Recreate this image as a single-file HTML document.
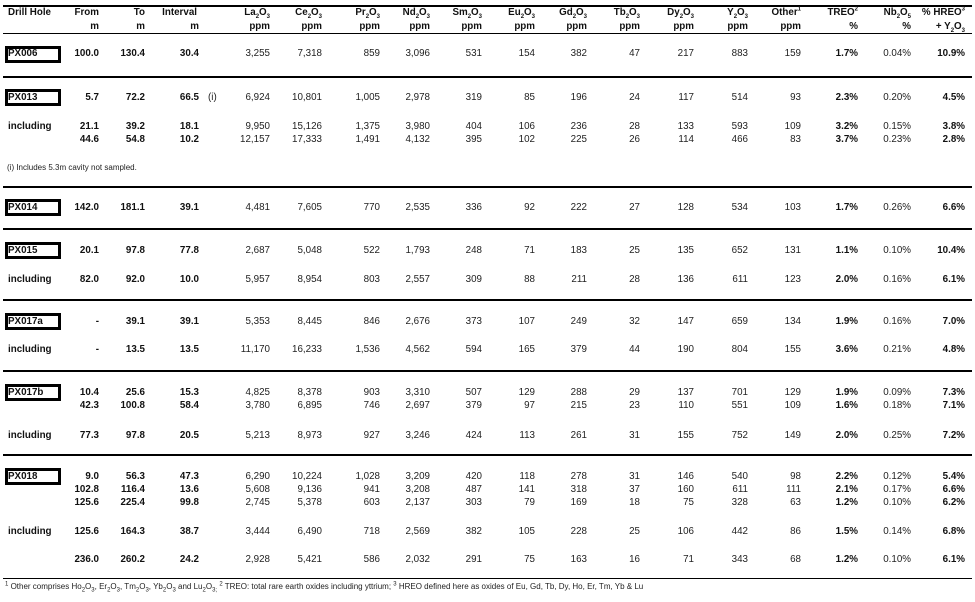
<!DOCTYPE html>
<html><head><meta charset="utf-8"><style>
body{margin:0;background:#fff;width:975px;height:602px;position:relative;overflow:hidden;font-family:"Liberation Sans",Arial,sans-serif;font-size:9.8px;color:#222}
.r{position:absolute;left:0;width:975px;height:12px;line-height:12px}
.r span{position:absolute;white-space:nowrap}
.b{font-weight:bold;color:#111}
.d{left:8px}
.f{right:876px}.t{right:830px}.iv{right:776px}.la{right:705px}.ce{right:653px}.pr{right:595px}.nd{right:545px}.sm{right:493px}.eu{right:440px}.gd{right:388px}.tb{right:335px}.dy{right:281px}.y{right:227px}.ot{right:174px}.tr{right:117px}.nb{right:64px}.h{right:10px}
.f,.t,.iv,.tr,.h,.d{font-weight:bold;color:#111}
.box{position:absolute;left:5px;width:50px;height:11px;border:3px solid #000}
.ln{position:absolute;left:3px;width:969px;background:#000}
sub,sup{font-size:6px;line-height:0}
</style></head><body>
<div class="ln" style="top:5px;height:2px"></div>
<div class="ln" style="top:33px;height:1px"></div>
<div class="ln" style="top:76px;height:2px"></div>
<div class="ln" style="top:186px;height:2px"></div>
<div class="ln" style="top:228px;height:2px"></div>
<div class="ln" style="top:299px;height:2px"></div>
<div class="ln" style="top:370px;height:2px"></div>
<div class="ln" style="top:454px;height:2px"></div>
<div class="ln" style="top:578px;height:1px"></div>

<div class="r" style="top:7px"><span class="d">Drill Hole</span><span class="f">From</span><span class="t">To</span><span class="iv" style="right:778px">Interval</span><span class="la b">La<sub>2</sub>O<sub>3</sub></span><span class="ce b">Ce<sub>2</sub>O<sub>3</sub></span><span class="pr b">Pr<sub>2</sub>O<sub>3</sub></span><span class="nd b">Nd<sub>2</sub>O<sub>3</sub></span><span class="sm b">Sm<sub>2</sub>O<sub>3</sub></span><span class="eu b">Eu<sub>2</sub>O<sub>3</sub></span><span class="gd b">Gd<sub>2</sub>O<sub>3</sub></span><span class="tb b">Tb<sub>2</sub>O<sub>3</sub></span><span class="dy b">Dy<sub>2</sub>O<sub>3</sub></span><span class="y b">Y<sub>2</sub>O<sub>3</sub></span><span class="ot b">Other<sup>1</sup></span><span class="tr">TREO<sup>2</sup></span><span class="nb b">Nb<sub>2</sub>O<sub>5</sub></span><span class="h">% HREO<sup>3</sup></span></div>
<div class="r" style="top:21px"><span class="f">m</span><span class="t">m</span><span class="iv">m</span><span class="la b">ppm</span><span class="ce b">ppm</span><span class="pr b">ppm</span><span class="nd b">ppm</span><span class="sm b">ppm</span><span class="eu b">ppm</span><span class="gd b">ppm</span><span class="tb b">ppm</span><span class="dy b">ppm</span><span class="y b">ppm</span><span class="ot b">ppm</span><span class="tr">%</span><span class="nb b">%</span><span class="h">+ Y<sub>2</sub>O<sub>3</sub></span></div>

<div class="box" style="top:46px"></div>
<div class="r" style="top:48px"><span class="d">PX006</span><span class="f">100.0</span><span class="t">130.4</span><span class="iv">30.4</span><span class="la">3,255</span><span class="ce">7,318</span><span class="pr">859</span><span class="nd">3,096</span><span class="sm">531</span><span class="eu">154</span><span class="gd">382</span><span class="tb">47</span><span class="dy">217</span><span class="y">883</span><span class="ot">159</span><span class="tr">1.7%</span><span class="nb">0.04%</span><span class="h">10.9%</span></div>

<div class="box" style="top:89px"></div>
<div class="r" style="top:92px"><span class="d">PX013</span><span class="f">5.7</span><span class="t">72.2</span><span class="iv">66.5</span><span style="left:208px">(i)</span><span class="la">6,924</span><span class="ce">10,801</span><span class="pr">1,005</span><span class="nd">2,978</span><span class="sm">319</span><span class="eu">85</span><span class="gd">196</span><span class="tb">24</span><span class="dy">117</span><span class="y">514</span><span class="ot">93</span><span class="tr">2.3%</span><span class="nb">0.20%</span><span class="h">4.5%</span></div>
<div class="r" style="top:121px"><span class="d">including</span><span class="f">21.1</span><span class="t">39.2</span><span class="iv">18.1</span><span class="la">9,950</span><span class="ce">15,126</span><span class="pr">1,375</span><span class="nd">3,980</span><span class="sm">404</span><span class="eu">106</span><span class="gd">236</span><span class="tb">28</span><span class="dy">133</span><span class="y">593</span><span class="ot">109</span><span class="tr">3.2%</span><span class="nb">0.15%</span><span class="h">3.8%</span></div>
<div class="r" style="top:134px"><span class="f">44.6</span><span class="t">54.8</span><span class="iv">10.2</span><span class="la">12,157</span><span class="ce">17,333</span><span class="pr">1,491</span><span class="nd">4,132</span><span class="sm">395</span><span class="eu">102</span><span class="gd">225</span><span class="tb">26</span><span class="dy">114</span><span class="y">466</span><span class="ot">83</span><span class="tr">3.7%</span><span class="nb">0.23%</span><span class="h">2.8%</span></div>
<div class="r" style="top:162px;font-size:8px"><span style="left:7px">(i) Includes 5.3m cavity not sampled.</span></div>

<div class="box" style="top:199px"></div>
<div class="r" style="top:202px"><span class="d">PX014</span><span class="f">142.0</span><span class="t">181.1</span><span class="iv">39.1</span><span class="la">4,481</span><span class="ce">7,605</span><span class="pr">770</span><span class="nd">2,535</span><span class="sm">336</span><span class="eu">92</span><span class="gd">222</span><span class="tb">27</span><span class="dy">128</span><span class="y">534</span><span class="ot">103</span><span class="tr">1.7%</span><span class="nb">0.26%</span><span class="h">6.6%</span></div>

<div class="box" style="top:242px"></div>
<div class="r" style="top:245px"><span class="d">PX015</span><span class="f">20.1</span><span class="t">97.8</span><span class="iv">77.8</span><span class="la">2,687</span><span class="ce">5,048</span><span class="pr">522</span><span class="nd">1,793</span><span class="sm">248</span><span class="eu">71</span><span class="gd">183</span><span class="tb">25</span><span class="dy">135</span><span class="y">652</span><span class="ot">131</span><span class="tr">1.1%</span><span class="nb">0.10%</span><span class="h">10.4%</span></div>
<div class="r" style="top:274px"><span class="d">including</span><span class="f">82.0</span><span class="t">92.0</span><span class="iv">10.0</span><span class="la">5,957</span><span class="ce">8,954</span><span class="pr">803</span><span class="nd">2,557</span><span class="sm">309</span><span class="eu">88</span><span class="gd">211</span><span class="tb">28</span><span class="dy">136</span><span class="y">611</span><span class="ot">123</span><span class="tr">2.0%</span><span class="nb">0.16%</span><span class="h">6.1%</span></div>

<div class="box" style="top:313px"></div>
<div class="r" style="top:316px"><span class="d">PX017a</span><span class="f">-</span><span class="t">39.1</span><span class="iv">39.1</span><span class="la">5,353</span><span class="ce">8,445</span><span class="pr">846</span><span class="nd">2,676</span><span class="sm">373</span><span class="eu">107</span><span class="gd">249</span><span class="tb">32</span><span class="dy">147</span><span class="y">659</span><span class="ot">134</span><span class="tr">1.9%</span><span class="nb">0.16%</span><span class="h">7.0%</span></div>
<div class="r" style="top:344px"><span class="d">including</span><span class="f">-</span><span class="t">13.5</span><span class="iv">13.5</span><span class="la">11,170</span><span class="ce">16,233</span><span class="pr">1,536</span><span class="nd">4,562</span><span class="sm">594</span><span class="eu">165</span><span class="gd">379</span><span class="tb">44</span><span class="dy">190</span><span class="y">804</span><span class="ot">155</span><span class="tr">3.6%</span><span class="nb">0.21%</span><span class="h">4.8%</span></div>

<div class="box" style="top:384px"></div>
<div class="r" style="top:387px"><span class="d">PX017b</span><span class="f">10.4</span><span class="t">25.6</span><span class="iv">15.3</span><span class="la">4,825</span><span class="ce">8,378</span><span class="pr">903</span><span class="nd">3,310</span><span class="sm">507</span><span class="eu">129</span><span class="gd">288</span><span class="tb">29</span><span class="dy">137</span><span class="y">701</span><span class="ot">129</span><span class="tr">1.9%</span><span class="nb">0.09%</span><span class="h">7.3%</span></div>
<div class="r" style="top:400px"><span class="f">42.3</span><span class="t">100.8</span><span class="iv">58.4</span><span class="la">3,780</span><span class="ce">6,895</span><span class="pr">746</span><span class="nd">2,697</span><span class="sm">379</span><span class="eu">97</span><span class="gd">215</span><span class="tb">23</span><span class="dy">110</span><span class="y">551</span><span class="ot">109</span><span class="tr">1.6%</span><span class="nb">0.18%</span><span class="h">7.1%</span></div>
<div class="r" style="top:430px"><span class="d">including</span><span class="f">77.3</span><span class="t">97.8</span><span class="iv">20.5</span><span class="la">5,213</span><span class="ce">8,973</span><span class="pr">927</span><span class="nd">3,246</span><span class="sm">424</span><span class="eu">113</span><span class="gd">261</span><span class="tb">31</span><span class="dy">155</span><span class="y">752</span><span class="ot">149</span><span class="tr">2.0%</span><span class="nb">0.25%</span><span class="h">7.2%</span></div>

<div class="box" style="top:468px"></div>
<div class="r" style="top:471px"><span class="d">PX018</span><span class="f">9.0</span><span class="t">56.3</span><span class="iv">47.3</span><span class="la">6,290</span><span class="ce">10,224</span><span class="pr">1,028</span><span class="nd">3,209</span><span class="sm">420</span><span class="eu">118</span><span class="gd">278</span><span class="tb">31</span><span class="dy">146</span><span class="y">540</span><span class="ot">98</span><span class="tr">2.2%</span><span class="nb">0.12%</span><span class="h">5.4%</span></div>
<div class="r" style="top:484px"><span class="f">102.8</span><span class="t">116.4</span><span class="iv">13.6</span><span class="la">5,608</span><span class="ce">9,136</span><span class="pr">941</span><span class="nd">3,208</span><span class="sm">487</span><span class="eu">141</span><span class="gd">318</span><span class="tb">37</span><span class="dy">160</span><span class="y">611</span><span class="ot">111</span><span class="tr">2.1%</span><span class="nb">0.17%</span><span class="h">6.6%</span></div>
<div class="r" style="top:497px"><span class="f">125.6</span><span class="t">225.4</span><span class="iv">99.8</span><span class="la">2,745</span><span class="ce">5,378</span><span class="pr">603</span><span class="nd">2,137</span><span class="sm">303</span><span class="eu">79</span><span class="gd">169</span><span class="tb">18</span><span class="dy">75</span><span class="y">328</span><span class="ot">63</span><span class="tr">1.2%</span><span class="nb">0.10%</span><span class="h">6.2%</span></div>
<div class="r" style="top:526px"><span class="d">including</span><span class="f">125.6</span><span class="t">164.3</span><span class="iv">38.7</span><span class="la">3,444</span><span class="ce">6,490</span><span class="pr">718</span><span class="nd">2,569</span><span class="sm">382</span><span class="eu">105</span><span class="gd">228</span><span class="tb">25</span><span class="dy">106</span><span class="y">442</span><span class="ot">86</span><span class="tr">1.5%</span><span class="nb">0.14%</span><span class="h">6.8%</span></div>
<div class="r" style="top:554px"><span class="f">236.0</span><span class="t">260.2</span><span class="iv">24.2</span><span class="la">2,928</span><span class="ce">5,421</span><span class="pr">586</span><span class="nd">2,032</span><span class="sm">291</span><span class="eu">75</span><span class="gd">163</span><span class="tb">16</span><span class="dy">71</span><span class="y">343</span><span class="ot">68</span><span class="tr">1.2%</span><span class="nb">0.10%</span><span class="h">6.1%</span></div>
<div class="r" style="top:581px;font-size:8px"><span style="left:5px"><sup>1</sup> Other comprises Ho<sub>2</sub>O<sub>3</sub>, Er<sub>2</sub>O<sub>3</sub>, Tm<sub>2</sub>O<sub>3</sub>, Yb<sub>2</sub>O<sub>3</sub> and Lu<sub>2</sub>O<sub>3;</sub> <sup>2</sup> TREO: total rare earth oxides including yttrium; <sup>3</sup> HREO defined here as oxides of Eu, Gd, Tb, Dy, Ho, Er, Tm, Yb &amp; Lu</span></div>
</body></html>
